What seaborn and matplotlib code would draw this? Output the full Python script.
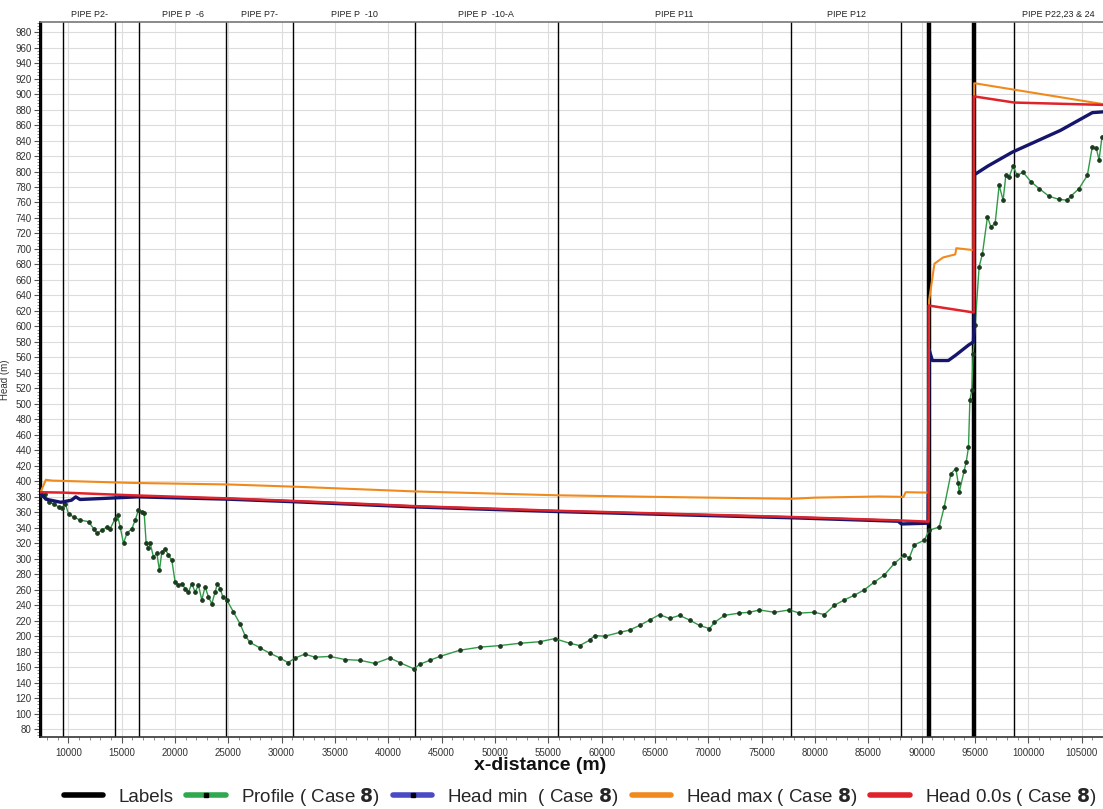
import matplotlib
matplotlib.use("Agg")
import matplotlib.pyplot as plt
from matplotlib.lines import Line2D
from matplotlib.ticker import MultipleLocator, FixedLocator
from matplotlib import transforms
import seaborn as sns

# Pipe boundary markers along the route (m)
label_x = [7450, 9530, 14400, 16650, 24800, 31070, 42490, 55880, 77790,
           88090, 90710, 94930, 98670]
label_heavy = [False, False, False, False, False, False, False, False, False,
               False, True, True, False]

pipe_names = ["PIPE P2-", "PIPE P  -6", "PIPE P7-", "PIPE P  -10",
              "PIPE P  -10-A", "PIPE P11", "PIPE P12", "PIPE P22,23 & 24"]
pipe_x = [11970, 20730, 27940, 36780, 49190, 66840, 82940, 102800]

# Ground profile (Case 8)
profile_x = [7400, 7846, 8155, 8624, 9092, 9410, 9719, 10028, 10496, 11124,
             11901, 12369, 12687, 13155, 13623, 13932, 14400, 14616, 14869,
             15178, 15496, 15964, 16273, 16582, 16900, 17116, 17303, 17518,
             17677, 17986, 18305, 18548, 18773, 19082, 19391, 19709, 20018,
             20327, 20646, 20955, 21264, 21582, 21891, 22200, 22518, 22827,
             23136, 23454, 23764, 23979, 24232, 24485, 24859, 25477, 26104,
             26572, 27041, 27977, 28913, 29850, 30599, 31254, 32190, 33127,
             34531, 35936, 37340, 38744, 40149, 41085, 42400, 42958, 43894,
             44831, 46703, 48576, 50449, 52321, 54194, 55598, 57003, 57939,
             58876, 59344, 60280, 61684, 62621, 63557, 64494, 65430, 66366,
             67303, 68239, 69175, 70111, 70580, 71516, 72920, 73857, 74793,
             76197, 77602, 78538, 79943, 80879, 81815, 82752, 83688, 84624,
             85561, 86497, 87433, 88370, 88836, 89306, 90243, 90711, 91647,
             92115, 92742, 93210, 93425, 93520, 93988, 94175, 94390, 94521,
             94708, 94830, 95018, 95390, 95700, 96168, 96486, 96889, 97264,
             97638, 97891, 98200, 98575, 98949, 99511, 100232, 101009, 101945,
             102882, 103631, 103977, 104754, 105531, 105999, 106374, 106627,
             106908]
profile_y = [382, 384, 373, 371, 367, 365, 371, 358, 354, 350,
             348, 339, 333, 337, 341, 339, 352, 356, 341,
             320, 333, 339, 350, 363, 361, 359, 320, 313.5,
             320, 302.5, 307, 285, 309, 313, 304.6, 298, 270,
             266, 268, 261.6, 257, 268, 257, 266, 247, 264,
             251, 242, 257, 268, 261.6, 251, 247, 231.5, 216,
             201, 192, 185, 178, 172, 166, 172, 177, 173,
             174, 170, 169, 165, 172, 166, 158, 164, 169,
             174, 182, 186, 188, 191, 193, 197, 191, 188,
             195, 201, 200, 205, 208, 214, 221, 228, 223,
             227, 221, 214, 210, 218, 227, 230, 231, 234,
             231, 234, 230, 231, 228, 240, 247, 253, 260,
             270, 279, 294, 305, 301, 318, 324, 337, 341,
             367, 410, 416.6, 397.6, 386, 414, 425, 444, 505,
             518, 565, 602, 677, 694, 741.5, 728.6, 733, 782,
             763, 795, 793, 807, 795, 799, 787, 778, 768,
             764, 763, 768, 778, 795, 832, 830, 815,
             845]

# Minimum head envelope (Case 8)
hmin_x = [7400, 7900, 9300, 10300, 10700, 11100, 16500, 25000, 31500, 42500,
          55900, 77800, 87800, 88100, 90600, 90700, 91000, 92500, 93200,
          94400, 94850, 94930, 94960, 96200, 98500, 103000, 106000, 107000]
hmin_y = [385, 377, 373, 375.7, 380, 376.6, 380, 377, 373.5, 367,
          361, 353, 348.5, 345, 346, 570, 556, 556, 563,
          576, 580, 604, 796, 807, 825, 853, 876, 877]

# Maximum head envelope (Case 8)
hmax_x = [7400, 7900, 8500, 16000, 25000, 31500, 42500, 55900, 65000, 77800,
          80000, 86000, 88300, 88500, 90650, 90700, 91200, 92000, 93150,
          93250, 94870, 94930, 107000]
hmax_y = [386, 402, 401, 398, 396, 393, 387, 382, 380, 377.5,
          379, 380.5, 380, 386, 385.5, 634, 681, 689, 693,
          701, 698.5, 914, 887]

# Initial head at t = 0.0 s (Case 8)
h0_x = [7400, 9500, 16000, 25000, 31500, 42500, 55900, 77800, 88000, 90650,
        90650, 94880, 94880, 98700, 107000]
h0_y = [386, 385.5, 382, 378, 374.5, 368, 362, 354, 349.5, 348,
        627, 618, 897, 889, 886]

sns.set_theme(style="whitegrid")
plt.rcParams['font.family'] = ['Liberation Sans', 'DejaVu Sans']

fig = plt.figure(figsize=(11.03, 8.09), dpi=100)
fig.patch.set_facecolor("white")
ax = fig.add_axes([40 / 1103, 1 - 737 / 809, 1 - 40 / 1103, (737 - 22) / 809])
ax.set_facecolor("white")

# Boundary marker lines
for xv, heavy in zip(label_x, label_heavy):
    ax.axvline(xv, color="black", lw=3.2 if heavy else 1.0, zorder=1.5)

sns.lineplot(x=profile_x, y=profile_y, ax=ax, estimator=None, sort=False,
             color="#2f9a45", lw=1.0, marker="o", markersize=2.6,
             markerfacecolor="#1c3a1f", markeredgecolor="#1c3a1f", zorder=3)
sns.lineplot(x=hmin_x, y=hmin_y, ax=ax, estimator=None, sort=False,
             color="#15166b", lw=2.4, zorder=4)
sns.lineplot(x=hmax_x, y=hmax_y, ax=ax, estimator=None, sort=False,
             color="#f08a1c", lw=1.5, zorder=5)
sns.lineplot(x=h0_x, y=h0_y, ax=ax, estimator=None, sort=False,
             color="#e0232b", lw=1.8, zorder=6)

ax.set_xlim(7350, 107000)
ax.set_ylim(70, 993)

ax.xaxis.set_major_locator(FixedLocator(list(range(10000, 106000, 5000))))
ax.xaxis.set_minor_locator(MultipleLocator(1000))
ax.yaxis.set_major_locator(MultipleLocator(20))
ax.yaxis.set_minor_locator(MultipleLocator(4))
ax.set_xticklabels([str(v) for v in range(10000, 106000, 5000)])

ax.grid(True, which="major", color="#dcdcdc", lw=0.8)
ax.grid(False, which="minor")
ax.tick_params(axis="both", which="major", direction="out", length=4, width=0.8,
               color="#555555", labelsize=7, labelcolor="#333333", pad=2)
ax.tick_params(axis="x", which="major", pad=4)
ax.tick_params(axis="both", which="minor", direction="out", length=2, width=0.6,
               color="#777777")
ax.tick_params(axis="x", which="both", bottom=True)
ax.tick_params(axis="y", which="both", left=True)

for side in ["top", "bottom", "left", "right"]:
    ax.spines[side].set_visible(True)
ax.spines["left"].set_color("black")
ax.spines["left"].set_linewidth(1.4)
ax.spines["bottom"].set_color("#333333")
ax.spines["bottom"].set_linewidth(1.2)
ax.spines["top"].set_color("#777777")
ax.spines["top"].set_linewidth(1.2)
ax.spines["right"].set_visible(False)

ax.set_xlabel("")
ax.set_ylabel("Head (m)", fontsize=7, color="#333333", labelpad=4)

# Pipe names above the plot area
trans = transforms.blended_transform_factory(ax.transData, ax.transAxes)
for name, xv in zip(pipe_names, pipe_x):
    ax.text(xv, 1.011, name, transform=trans, ha="center", va="center",
            fontsize=6.5, color="#222222")

fig.text(540 / 1103, 1 - 765 / 809, "x-distance (m)", ha="center", va="center",
         fontsize=14, fontweight="bold", color="#111111")

handles = [
    Line2D([], [], color="black", lw=4),
    Line2D([], [], color="#2fa84f", lw=4, marker="s", markersize=3,
           markerfacecolor="black", markeredgecolor="black"),
    Line2D([], [], color="#4a4ac4", lw=4, marker="s", markersize=3,
           markerfacecolor="black", markeredgecolor="black"),
    Line2D([], [], color="#f08a1c", lw=4),
    Line2D([], [], color="#e0232b", lw=4),
]
labels = [
    "Labels",
    r"Profile ( Case $\mathbf{8}$)",
    r"Head min  ( Case $\mathbf{8}$)",
    r"Head max ( Case $\mathbf{8}$)",
    r"Head 0.0s ( Case $\mathbf{8}$)",
]
fig.legend(handles, labels, loc="center", bbox_to_anchor=(580 / 1103, 1 - 797 / 809),
           ncol=5, frameon=False, fontsize=13.5, handlelength=2.1,
           handletextpad=0.8, columnspacing=0.7, numpoints=1)

fig.savefig("out.png", dpi=100, facecolor="white")
